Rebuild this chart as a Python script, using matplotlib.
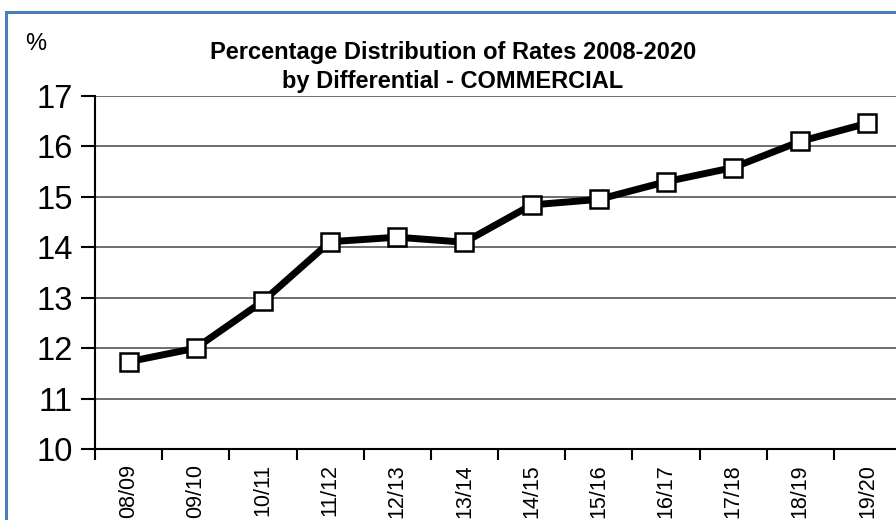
import matplotlib
matplotlib.use('Agg')
import matplotlib.pyplot as plt
from matplotlib.patches import Rectangle

# Data
periods = ['08/09', '09/10', '10/11', '11/12', '12/13', '13/14',
           '14/15', '15/16', '16/17', '17/18', '18/19', '19/20']
rates = [11.73, 12.0, 12.93, 14.11, 14.2, 14.1,
         14.84, 14.95, 15.3, 15.58, 16.1, 16.46]
y_ticks = [10, 11, 12, 13, 14, 15, 16, 17]

plt.rcParams['font.family'] = ['Liberation Sans', 'DejaVu Sans']

fig = plt.figure(figsize=(8.96, 5.2), dpi=100)
W, H = 896, 520

# blue outer frame (only top and left visible)
fig.add_artist(Rectangle((6 / W, -0.05), 1.1, 1 - 12 / H + 0.05,
                         transform=fig.transFigure, fill=False,
                         edgecolor='#4a7ebb', linewidth=2.2))

ax = fig.add_axes([95 / W, 1 - 449 / H, 806 / W, 353 / H])

x = list(range(len(periods)))
ax.plot(x, rates, color='black', linewidth=5, marker='s', markersize=13.5,
        markerfacecolor='white', markeredgecolor='black', markeredgewidth=1.8,
        zorder=3)

ax.set_ylim(10, 17)
ax.set_xlim(-0.5, len(periods) - 0.5)
ax.set_yticks(y_ticks)
ax.set_yticklabels([str(v) for v in y_ticks], fontsize=23.5)
ax.yaxis.grid(True, color='#555555', linewidth=1.2)
ax.set_axisbelow(True)

# category ticks on boundaries, labels at centers
ax.set_xticks([i - 0.5 for i in range(len(periods) + 1)])
ax.set_xticklabels([])
ax.set_xticks(x, minor=True)
ax.set_xticklabels(periods, minor=True, rotation=90, fontsize=15.5)
ax.tick_params(axis='x', which='minor', length=0, pad=11)
ax.tick_params(axis='x', which='major', length=8, width=1.5)
ax.tick_params(axis='y', length=10, width=1.5, pad=6)

for side in ['top', 'right']:
    ax.spines[side].set_visible(False)
for side in ['left', 'bottom']:
    ax.spines[side].set_linewidth(1.5)

fig.text(453 / W, 1 - 67 / H,
         'Percentage Distribution of Rates 2008-2020\nby Differential - COMMERCIAL',
         ha='center', va='center', fontsize=17, fontweight='bold',
         linespacing=1.32)
fig.text(25 / W, 1 - 44 / H, '%', ha='left', va='center', fontsize=17)

fig.savefig('out.png', dpi=100)
